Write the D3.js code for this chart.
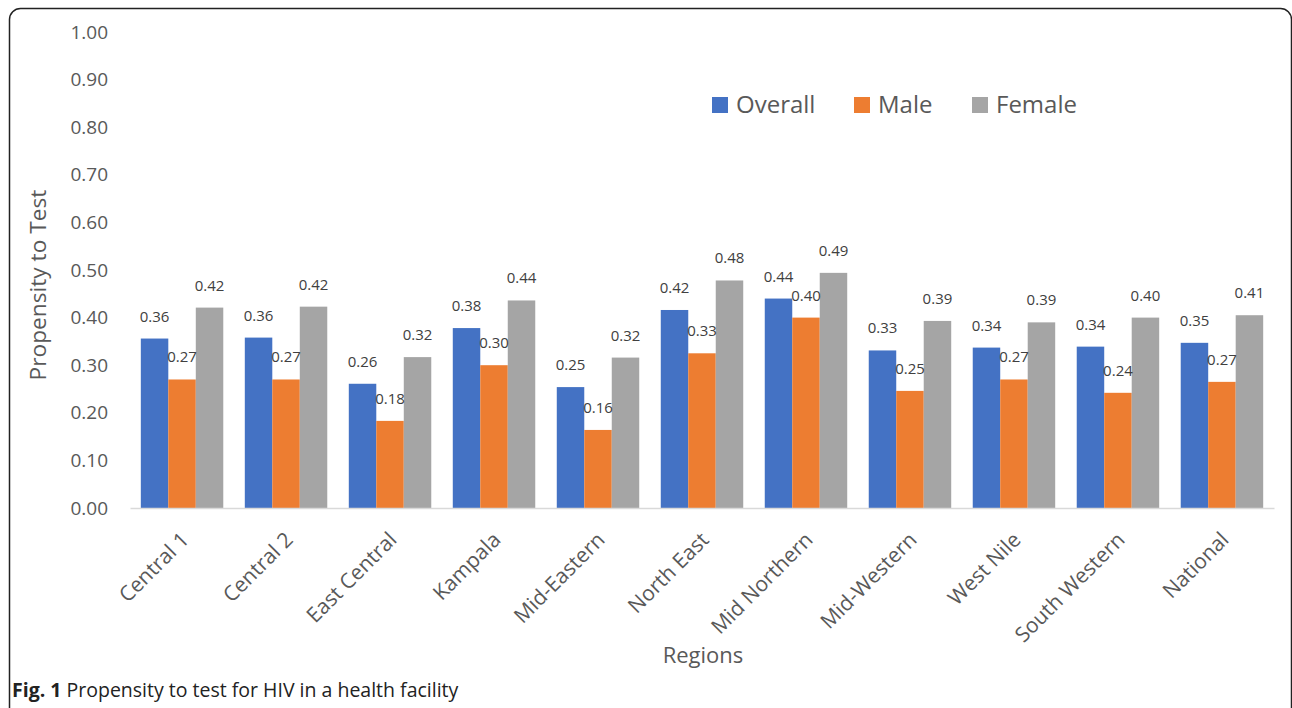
<!DOCTYPE html>
<html>
<head>
<meta charset="utf-8">
<script src="https://cdn.jsdelivr.net/npm/d3@7"></script>
<style>
  body { margin: 0; background: #fff; }
  svg { display: block; font-family: "Open Sans", sans-serif; }
</style>
</head>
<body>
<div id="chart"></div>
<script>
// data
const regions = ['Central 1', 'Central 2', 'East Central', 'Kampala', 'Mid-Eastern', 'North East',
  'Mid Northern', 'Mid-Western', 'West Nile', 'South Western', 'National'];
const seriesNames = ['Overall', 'Male', 'Female'];
const overall = [0.356, 0.358, 0.261, 0.378, 0.254, 0.416, 0.440, 0.331, 0.337, 0.339, 0.347];
const male = [0.270, 0.270, 0.183, 0.300, 0.164, 0.325, 0.400, 0.246, 0.270, 0.242, 0.265];
const female = [0.421, 0.423, 0.317, 0.436, 0.316, 0.478, 0.494, 0.393, 0.390, 0.400, 0.405];
const yTicks = [0, 0.1, 0.2, 0.3, 0.4, 0.5, 0.6, 0.7, 0.8, 0.9, 1.0];
const colors = ['#4472c4', '#ed7d31', '#a5a5a5'];

const W = 1292, H = 708;
const margin = { top: 32, right: 18, bottom: 200, left: 130 };
const width = W - margin.left - margin.right;
const height = H - margin.top - margin.bottom;

const svg = d3.select('#chart').append('svg')
  .attr('width', W)
  .attr('height', H);

// outer frame
svg.append('rect')
  .attr('x', 9.5).attr('y', 8.5)
  .attr('width', 1282).attr('height', 720)
  .attr('rx', 11)
  .attr('fill', 'none')
  .attr('stroke', '#222')
  .attr('stroke-width', 1.5);

const chart = svg.append('g')
  .attr('transform', `translate(${margin.left},${margin.top})`);

const x0 = d3.scaleBand().domain(regions).range([0, 1144]).paddingInner(0.207).paddingOuter(0.104);
const x1 = d3.scaleBand().domain(seriesNames).range([0, x0.bandwidth()]);
const y = d3.scaleLinear().domain([0, 1]).range([height, 0]);

const rows = regions.map((r, i) => ({ region: r, values: [overall[i], male[i], female[i]] }));

// y axis (labels only)
const yAxisG = chart.append('g')
  .call(d3.axisLeft(y).tickValues(yTicks).tickFormat(d3.format('.2f')).tickSize(0).tickPadding(22));
yAxisG.select('.domain').remove();
yAxisG.selectAll('text')
  .attr('font-size', 19)
  .attr('fill', '#595959')
  .attr('font-family', '"Open Sans", sans-serif');

// bars
const groups = chart.selectAll('.grp')
  .data(rows)
  .join('g')
    .attr('class', 'grp')
    .attr('transform', d => `translate(${x0(d.region)},0)`);

groups.selectAll('rect')
  .data(d => d.values.map((v, k) => ({ key: seriesNames[k], v: v, k: k })))
  .join('rect')
    .attr('x', d => x1(d.key))
    .attr('y', d => y(d.v))
    .attr('width', x1.bandwidth())
    .attr('height', d => y(0) - y(d.v))
    .attr('fill', d => colors[d.k]);

groups.selectAll('.lbl')
  .data(d => d.values.map((v, k) => ({ key: seriesNames[k], v: v, k: k })))
  .join('text')
    .attr('class', 'lbl')
    .attr('x', d => x1(d.key) + x1.bandwidth() / 2)
    .attr('y', d => y(d.v) - 17)
    .attr('text-anchor', 'middle')
    .attr('font-size', 15)
    .attr('fill', '#404040')
    .text(d => d3.format('.2f')(d.v));

// x axis
const xAxisG = chart.append('g')
  .attr('transform', `translate(0,${height})`)
  .call(d3.axisBottom(x0).tickSize(0).tickPadding(14));
xAxisG.select('.domain').attr('stroke', '#d9d9d9').attr('stroke-width', 1.5);
xAxisG.selectAll('text')
  .attr('font-size', 21)
  .attr('fill', '#595959')
  .attr('font-family', '"Open Sans", sans-serif')
  .attr('text-anchor', 'end')
  .attr('dy', '0.35em')
  .attr('transform', 'translate(-7,18) rotate(-45)');

// axis titles
chart.append('text')
  .attr('transform', `translate(${38 - margin.left},${285 - margin.top}) rotate(-90)`)
  .attr('text-anchor', 'middle')
  .attr('dy', '0.35em')
  .attr('font-size', 22.7)
  .attr('fill', '#595959')
  .text('Propensity to Test');

chart.append('text')
  .attr('x', 703 - margin.left)
  .attr('y', 663 - margin.top)
  .attr('text-anchor', 'middle')
  .attr('font-size', 22)
  .attr('fill', '#595959')
  .text('Regions');

// legend
const legendX = [712, 854, 972];
const legend = svg.append('g');
seriesNames.forEach((s, i) => {
  legend.append('rect')
    .attr('x', legendX[i]).attr('y', 97)
    .attr('width', 16).attr('height', 16)
    .attr('fill', colors[i]);
  legend.append('text')
    .attr('x', legendX[i] + 24).attr('y', 113)
    .attr('font-size', 24)
    .attr('fill', '#595959')
    .text(s);
});

// caption
const cap = svg.append('text')
  .attr('x', 12).attr('y', 697)
  .attr('font-size', 19.5)
  .attr('fill', '#222');
cap.append('tspan').attr('font-weight', 700).text('Fig. 1');
cap.append('tspan').text(' Propensity to test for HIV in a health facility');
</script>
</body>
</html>
